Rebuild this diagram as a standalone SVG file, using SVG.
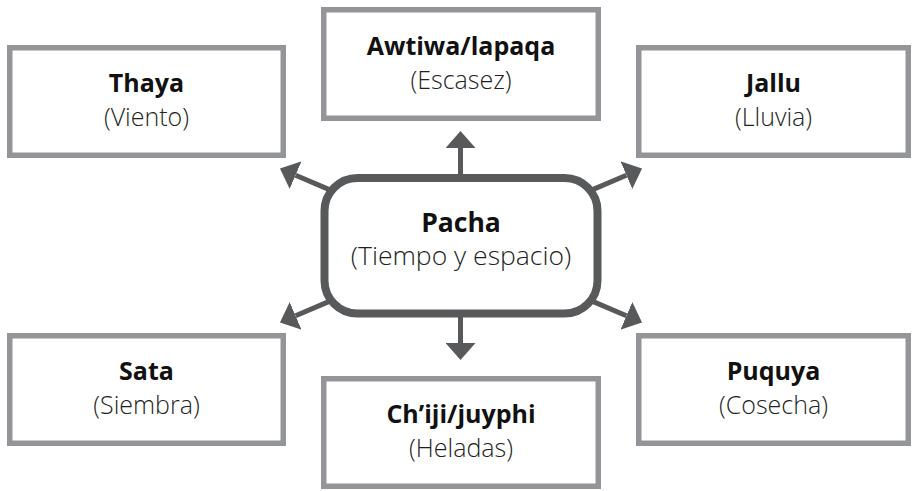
<svg xmlns="http://www.w3.org/2000/svg" width="913" height="491" viewBox="0 0 913 491">
<defs>
<style>
.box{fill:#fff;stroke:#939598;stroke-width:5.5}
.center{fill:#fff;stroke:#58595b;stroke-width:8}
.conn{stroke:#58595b;stroke-width:5;fill:none;marker-end:url(#ah)}
.t{font-family:"Open Sans","Liberation Sans",sans-serif;font-size:25px;text-anchor:middle;fill:#111}
.b{font-weight:700}
.s{font-weight:300;fill:#231f20}
</style>
<marker id="ah" viewBox="0 0 17 30" refX="0" refY="15" markerWidth="17" markerHeight="30" markerUnits="userSpaceOnUse" orient="auto">
<path d="M0,0 L17,15 L0,30 Z" fill="#58595b"/>
</marker>
</defs>
<rect width="913" height="491" fill="#fff"/>
<g id="connectors">
<line class="conn" x1="460.5" y1="185" x2="460.5" y2="148"/>
<line class="conn" x1="460.5" y1="306" x2="460.5" y2="343"/>
<line class="conn" x1="335.2" y1="192.1" x2="295.6" y2="175.2"/>
<line class="conn" x1="586.8" y1="192.1" x2="626.4" y2="175.2"/>
<line class="conn" x1="335.2" y1="298.9" x2="295.6" y2="315.8"/>
<line class="conn" x1="586.8" y1="298.9" x2="626.4" y2="315.8"/>
</g>
<g id="pacha">
<rect class="center" x="324.5" y="178" width="273" height="135.5" rx="33"/>
<text class="t b" x="461" y="232" style="font-size:26.5px">Pacha</text>
<text class="t s" x="461" y="265" style="font-size:26.5px">(Tiempo y espacio)</text>
</g>
<g id="thaya">
<rect class="box" x="9.75" y="47.75" width="273.5" height="107.5"/>
<text class="t b" x="146.5" y="92">Thaya</text>
<text class="t s" x="146.5" y="126">(Viento)</text>
</g>
<g id="awtiwa">
<rect class="box" x="323.75" y="9.75" width="274.5" height="108.5"/>
<text class="t b" x="461" y="54.5">Awtiwa/lapaqa</text>
<text class="t s" x="461" y="88.5">(Escasez)</text>
</g>
<g id="jallu">
<rect class="box" x="638.75" y="47.75" width="269.5" height="107.5"/>
<text class="t b" x="773.5" y="92">Jallu</text>
<text class="t s" x="773.5" y="126">(Lluvia)</text>
</g>
<g id="sata">
<rect class="box" x="9.75" y="335.75" width="273.5" height="107.5"/>
<text class="t b" x="146.5" y="380">Sata</text>
<text class="t s" x="146.5" y="414">(Siembra)</text>
</g>
<g id="chiji">
<rect class="box" x="323.75" y="378.75" width="274.5" height="107.5"/>
<text class="t b" x="461" y="423">Ch’iji/juyphi</text>
<text class="t s" x="461" y="457">(Heladas)</text>
</g>
<g id="puquya">
<rect class="box" x="638.75" y="335.75" width="269.5" height="107.5"/>
<text class="t b" x="773.5" y="380">Puquya</text>
<text class="t s" x="773.5" y="414">(Cosecha)</text>
</g>
</svg>
